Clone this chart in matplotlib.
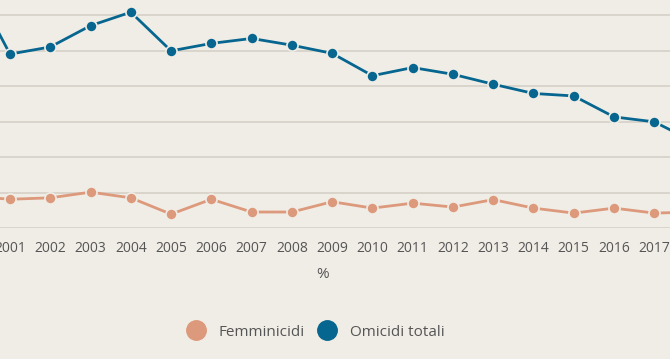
import matplotlib
matplotlib.use("Agg")
import matplotlib.pyplot as plt
from matplotlib.lines import Line2D

years = list(range(2000, 2019))
omicidi = [704, 490, 510, 570, 608, 499, 520, 534, 515, 492,
           429, 452, 433, 405, 379, 372, 313, 299, 242]
femminicidi = [90, 81, 85, 101, 85, 39, 81, 45, 45, 74,
               56, 70, 59, 80, 56, 42, 56, 42, 45]
tick_years = list(range(2001, 2018))

bg = "#f0ede6"
blue = "#07668f"
salmon = "#dd997b"
grid = "#d5d1c9"
text = "#555555"

plt.rcParams['font.family'] = ['Open Sans', 'DejaVu Sans']

fig = plt.figure(figsize=(6.7, 3.59), dpi=100, facecolor=bg)
ax = fig.add_axes([0, (359 - 228) / 359, 1, 228 / 359])
ax.set_facecolor(bg)

for v in range(0, 700, 100):
    ax.axhline(v, color=grid, lw=1.2, zorder=1)

ax.plot(years, omicidi, color=blue, lw=2.0, marker='o', ms=8,
        mec=bg, mew=1.2, zorder=3)
ax.plot(years, femminicidi, color=salmon, lw=2.0, marker='o', ms=8,
        mec=bg, mew=1.2, zorder=3)

ax.set_xlim(2000.752, 2017.39)
ax.set_ylim(0, 642.3)
ax.set_xticks(tick_years)
ax.set_xticklabels([str(y) for y in tick_years], fontsize=10, color=text)
ax.tick_params(axis='x', length=0, pad=9)
ax.set_yticks([])
for s in ax.spines.values():
    s.set_visible(False)

fig.text(323 / 670, 1 - 275 / 359, "%", ha='center', va='center',
         fontsize=11, color=text)

handles = [
    Line2D([], [], ls='none', marker='o', ms=14, color=salmon, mec=salmon),
    Line2D([], [], ls='none', marker='o', ms=14, color=blue, mec=blue),
]
fig.legend(handles, ["Femminicidi", "Omicidi totali"], ncol=2, frameon=False,
           loc='center', bbox_to_anchor=(0.47, 1 - 332 / 359),
           fontsize=11, labelcolor=text, handlelength=1.4,
           handletextpad=0.8, columnspacing=0.74)

fig.savefig("out.png", dpi=100, facecolor=bg)
